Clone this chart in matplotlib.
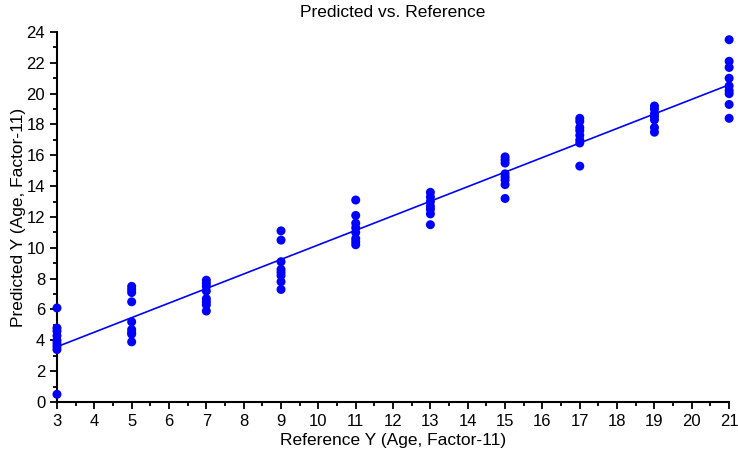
import matplotlib
matplotlib.use("Agg")
import matplotlib.pyplot as plt
from matplotlib.ticker import MultipleLocator
import numpy as np

plt.rcParams['font.family'] = ['Liberation Sans', 'DejaVu Sans']

# Reference ages (factor levels) and predicted values for each sample
ref_levels = [3, 5, 7, 9, 11, 13, 15, 17, 19, 21]
predicted = {
    3: [6.1, 4.8, 4.6, 4.3, 4.0, 3.8, 3.6, 3.4, 0.5],
    5: [7.5, 7.3, 7.1, 6.5, 5.2, 4.7, 4.5, 4.4, 3.9],
    7: [7.9, 7.7, 7.5, 7.2, 6.7, 6.5, 6.3, 5.9],
    9: [11.1, 10.5, 9.1, 8.6, 8.4, 8.2, 7.8, 7.3],
    11: [13.1, 12.1, 11.6, 11.3, 11.0, 10.6, 10.4, 10.2],
    13: [13.6, 13.3, 13.0, 12.7, 12.5, 12.2, 11.5],
    15: [15.9, 15.7, 15.5, 14.8, 14.6, 14.4, 14.1, 13.2],
    17: [18.4, 18.2, 17.8, 17.6, 17.3, 17.0, 16.8, 15.3],
    19: [19.2, 19.0, 18.7, 18.5, 18.3, 17.8, 17.5],
    21: [23.5, 22.1, 21.7, 21.0, 20.5, 20.2, 20.0, 19.3, 18.4],
}

x = np.concatenate([[lvl] * len(predicted[lvl]) for lvl in ref_levels])
y = np.concatenate([predicted[lvl] for lvl in ref_levels])

# Least-squares fit of predicted on reference
slope, intercept = np.polyfit(x, y, 1)
xfit = np.array([ref_levels[0], ref_levels[-1]])
yfit = slope * xfit + intercept

fig = plt.figure(figsize=(7.38, 4.61), dpi=100)
ax = fig.add_axes([0.0772, 0.128, 0.9108, 0.8026])

ax.plot(xfit, yfit, color='#0000ff', lw=1.2, zorder=2, clip_on=False)
ax.scatter(x, y, s=42, color='#0000ff', edgecolors='none', zorder=3, clip_on=False)

ax.set_xlim(3, 21)
ax.set_ylim(0, 24)
ax.xaxis.set_major_locator(MultipleLocator(1))
ax.xaxis.set_minor_locator(MultipleLocator(0.5))
ax.yaxis.set_major_locator(MultipleLocator(2))
ax.yaxis.set_minor_locator(MultipleLocator(1))

for side in ('top', 'right'):
    ax.spines[side].set_visible(False)
for side in ('left', 'bottom'):
    ax.spines[side].set_linewidth(1.5)
    ax.spines[side].set_color('black')

ax.tick_params(which='major', direction='out', length=5, width=1.3, labelsize=12, colors='black')
ax.tick_params(which='minor', direction='out', length=3, width=1.3)

ax.set_xlabel('Reference Y (Age, Factor-11)', fontsize=12.5, labelpad=3)
ax.set_ylabel('Predicted Y (Age, Factor-11)', fontsize=12.5)
ax.yaxis.set_label_coords(-0.046, 0.5)
ax.set_title('Predicted vs. Reference', fontsize=12.5, pad=10.5)

fig.savefig('out.png', dpi=100)
